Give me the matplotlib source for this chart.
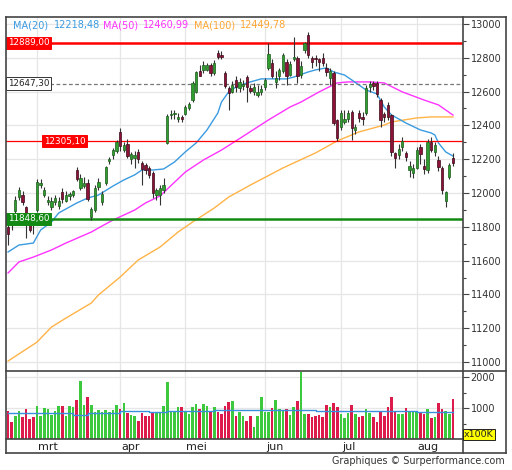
import matplotlib
matplotlib.use('Agg')
import matplotlib.pyplot as plt
import numpy as np
import pandas as pd
from matplotlib.lines import Line2D
from matplotlib.transforms import blended_transform_factory

# ---------------- data ----------------
holidays = ['2017-04-14', '2017-04-17', '2017-05-01', '2017-06-05']
dates = pd.bdate_range('2017-02-17', '2017-08-15')
dates = dates[~dates.isin(pd.to_datetime(holidays))]
month_names = ['mrt', 'apr', 'mei', 'jun', 'jul', 'aug']

opens = [11800, 11850, 11893, 11975, 11990, 11915, 11850, 11850, 11900, 12045,
         11990, 11945, 11915, 11945, 11925, 12005, 11955, 11985, 11990, 12136,
         12030, 12040, 12060, 11860, 11900, 12035, 11945, 12059, 12190, 12225,
         12250, 12360, 12255, 12290, 12200, 12205, 12240, 12180, 12165, 12150,
         12120, 11990, 11990, 12020, 12296, 12460, 12465, 12440, 12450, 12470,
         12505, 12550, 12600, 12720, 12728, 12730, 12760, 12710, 12830, 12815,
         12710, 12620, 12600, 12669, 12620, 12630, 12687, 12620, 12600, 12580,
         12600, 12627, 12740, 12770, 12655, 12690, 12720, 12775, 12700, 12795,
         12800, 12700, 12846, 12935, 12800, 12800, 12795, 12800, 12740, 12680,
         12710, 12430, 12390, 12420, 12440, 12480, 12375, 12473, 12450, 12473,
         12625, 12650, 12650, 12550, 12470, 12520, 12460, 12237, 12225, 12270,
         12237, 12136, 12118, 12148, 12272, 12160, 12136, 12302, 12240, 12195,
         12148, 11950, 12095, 12207]
highs = [11830, 11860, 11980, 12035, 12010, 11925, 11865, 11855, 12080, 12085,
         12035, 11985, 11975, 11990, 11975, 12030, 12010, 12005, 12020, 12156,
         12110, 12095, 12080, 11915, 12050, 12090, 12010, 12160, 12215, 12265,
         12315, 12385, 12300, 12320, 12245, 12250, 12260, 12190, 12180, 12160,
         12130, 12030, 12050, 12090, 12465, 12490, 12490, 12475, 12460, 12520,
         12540, 12660, 12720, 12760, 12780, 12770, 12770, 12785, 12845, 12841,
         12720, 12630, 12660, 12690, 12680, 12670, 12700, 12640, 12650, 12640,
         12640, 12680, 12890, 12790, 12720, 12740, 12830, 12790, 12780, 12920,
         12810, 12780, 12895, 12951, 12810, 12815, 12800, 12830, 12770, 12740,
         12720, 12440, 12490, 12490, 12490, 12490, 12410, 12490, 12480, 12640,
         12665, 12665, 12665, 12560, 12480, 12540, 12470, 12245, 12290, 12330,
         12250, 12190, 12170, 12270, 12290, 12200, 12320, 12330, 12300, 12220,
         12160, 12010, 12175, 12237]
lows = [11690, 11780, 11880, 11960, 11930, 11735, 11770, 11760, 11890, 12030,
        11975, 11930, 11900, 11930, 11905, 11940, 11945, 11960, 11975, 12070,
        12020, 12030, 11955, 11838, 11890, 12020, 11930, 12045, 12170, 12200,
        12235, 12250, 12240, 12205, 12170, 12150, 12180, 12050, 12110, 12090,
        11970, 11960, 11929, 12000, 12290, 12440, 12440, 12420, 12420, 12460,
        12490, 12540, 12590, 12690, 12710, 12720, 12690, 12700, 12790, 12790,
        12620, 12490, 12590, 12600, 12600, 12610, 12540, 12590, 12580, 12570,
        12580, 12610, 12730, 12680, 12620, 12670, 12710, 12640, 12690, 12780,
        12650, 12680, 12830, 12800, 12740, 12750, 12720, 12750, 12690, 12640,
        12400, 12305, 12370, 12410, 12420, 12314, 12350, 12420, 12400, 12460,
        12600, 12610, 12570, 12390, 12420, 12430, 12220, 12148, 12200, 12250,
        12190, 12095, 12090, 12140, 12170, 12110, 12120, 12240, 12220, 12130,
        11995, 11915, 12080, 12160]
closes = [11760, 11810, 11960, 12020, 11945, 11870, 11780, 11830, 12065, 12060,
          12020, 11960, 11955, 11970, 11955, 11963, 11990, 11995, 12010, 12080,
          12090, 12060, 11962, 11904, 12030, 12064, 11996, 12154, 12203, 12257,
          12300, 12280, 12282, 12218, 12231, 12225, 12200, 12139, 12135, 12109,
          12000, 12016, 12027, 12048, 12455, 12467, 12473, 12450, 12438, 12507,
          12528, 12648, 12717, 12694, 12757, 12757, 12711, 12770, 12807, 12804,
          12631, 12590, 12638, 12627, 12655, 12642, 12627, 12602, 12628, 12599,
          12615, 12669, 12822, 12690, 12680, 12725, 12815, 12690, 12765, 12806,
          12691, 12753, 12888, 12814, 12774, 12794, 12775, 12771, 12716, 12720,
          12416, 12325, 12475, 12440, 12475, 12385, 12392, 12444, 12437, 12621,
          12645, 12635, 12587, 12430, 12452, 12447, 12240, 12209, 12263, 12305,
          12212, 12162, 12150, 12254, 12228, 12140, 12302, 12257, 12285, 12154,
          12020, 12005, 12165, 12177]
volumes = [914, 559, 752, 903, 699, 967, 634, 699, 1064, 752,
           1000, 967, 774, 903, 1064, 1064, 752, 1064, 1043, 1247,
           1881, 1096, 1344, 1096, 881, 935, 881, 935, 881, 935,
           1096, 967, 1150, 849, 763, 742, 580, 827, 752, 752,
           860, 827, 827, 1064, 1849, 903, 903, 1021, 1021, 881,
           806, 1043, 1118, 967, 1129, 1064, 914, 1021, 860, 795,
           1064, 1183, 1226, 742, 881, 742, 580, 742, 398, 742,
           1365, 881, 881, 989, 1258, 967, 935, 967, 774, 1043,
           1226, 2170, 795, 795, 699, 742, 774, 699, 1100, 1021,
           1150, 1043, 795, 666, 827, 1096, 806, 720, 742, 967,
           827, 699, 559, 881, 752, 1043, 1344, 860, 795, 795,
           1010, 903, 881, 860, 860, 795, 967, 666, 720, 1172,
           967, 903, 795, 1279]

ma20_idx = [0, 3, 7, 9, 12, 14, 19, 22, 25, 29, 32, 35, 37, 40, 43, 46, 49, 52, 55, 58,
            59, 61, 63, 66, 70, 74, 77, 79, 83, 85, 88, 90, 93, 95, 97, 99, 102, 104,
            106, 110, 114, 117, 118, 119, 121, 123]
ma20_val = [11651, 11692, 11704, 11781, 11828, 11882, 11941, 11970, 11988, 12041,
            12077, 12107, 12136, 12136, 12142, 12183, 12243, 12296, 12373, 12473,
            12538, 12598, 12627, 12651, 12675, 12675, 12675, 12686, 12716, 12728,
            12740, 12716, 12698, 12669, 12639, 12609, 12586, 12509, 12462, 12414,
            12373, 12355, 12343, 12296, 12243, 12218.48]
ma50_idx = [0, 3, 7, 12, 16, 23, 25, 29, 35, 38, 42, 49, 54, 59, 63, 72, 78, 81, 86,
            91, 94, 100, 104, 109, 115, 119, 121, 123]
ma50_val = [11527, 11592, 11621, 11663, 11704, 11769, 11793, 11840, 11899, 11941,
            11982, 12124, 12195, 12254, 12308, 12432, 12509, 12538, 12598, 12651,
            12657, 12657, 12651, 12598, 12550, 12521, 12491, 12460.99]
ma100_idx = [0, 8, 12, 16, 23, 25, 31, 36, 42, 47, 51, 57, 61, 67, 76, 85, 91, 97,
             104, 106, 113, 117, 123]
ma100_val = [11006, 11118, 11207, 11260, 11349, 11397, 11503, 11604, 11680, 11769,
             11828, 11911, 11976, 12047, 12148, 12237, 12308, 12361, 12402, 12420,
             12444, 12450, 12449.78]
volma_idx = [0, 8, 18, 22, 31, 39, 44, 57, 85, 113, 123]
volma_val = [850, 830, 775, 850, 905, 860, 905, 935, 905, 860, 860]

levels = [12889.00, 12647.30, 12305.10, 11848.60]
level_labels = ['12889,00', '12647,30', '12305,10', '11848,60']
legend_names = ['MA(20)', 'MA(50)', 'MA(100)']
legend_values = ['12218,48', '12460,99', '12449,78']
price_ticks = list(range(11000, 13001, 200))
vol_ticks = [1000, 2000]

# ---------------- layout ----------------
W, H = 512, 470
fig = plt.figure(figsize=(W / 100, H / 100), dpi=100)
fig.patch.set_facecolor('white')

def fx(x):
    return x / W

def fy(y):
    return 1 - y / H

ax = fig.add_axes([fx(6), fy(370), 457 / W, 353 / H])
axv = fig.add_axes([fx(6), fy(439), 457 / W, 69 / H])

n = len(closes)
idx = np.arange(n)
month_start = [i for i in range(1, n) if dates[i].month != dates[i - 1].month]

XL = (-0.57, 125.78)
grid_c = '#e6e6e6'
for a in (ax, axv):
    a.set_xlim(*XL)
    for s in a.spines.values():
        s.set_visible(False)
    a.set_facecolor('white')
    a.set_xticks(month_start)
    a.tick_params(axis='x', length=0, labelbottom=False)
    a.grid(True, axis='both', color=grid_c, lw=0.9, zorder=0)
    a.set_axisbelow(True)
    a.yaxis.tick_right()

ax.set_ylim(10953, 13041)
ax.set_yticks(price_ticks)
ax.set_yticklabels([str(t) for t in price_ticks])
ax.set_yticks(list(range(11100, 13000, 200)), minor=True)
ax.tick_params(axis='y', which='major', length=4, width=0.8, color='#444',
               labelsize=7, labelcolor='#333', pad=1.5)
ax.tick_params(axis='y', which='minor', length=2.5, width=0.8, color='#444')
ax.grid(False, which='minor')

# moving averages
ax.plot(ma100_idx, ma100_val, color='#ffb347', lw=1.0, zorder=2)
ax.plot(ma50_idx, ma50_val, color='#ff33ff', lw=1.0, zorder=2)
ax.plot(ma20_idx, ma20_val, color='#3a9be0', lw=1.0, zorder=2)

# level lines
ax.axhline(levels[0], color='#ff0000', lw=1.8, zorder=3)
ax.axhline(levels[1], color='#777777', lw=0.9, ls=(0, (3, 2)), zorder=3)
ax.axhline(levels[2], color='#ff0000', lw=0.9, zorder=3)
ax.axhline(levels[3], color='#138a13', lw=1.8, zorder=3)

# candles
o = np.array(opens, float); c = np.array(closes, float)
h = np.array(highs, float); l = np.array(lows, float)
up = c >= o
ax.vlines(idx, l, h, color='#333333', lw=0.8, zorder=4)
body_h = np.maximum(np.abs(c - o), 4)
ax.bar(idx, body_h, bottom=np.minimum(o, c), width=0.64,
       color=np.where(up, '#2f9e2f', '#8e1238'),
       edgecolor=np.where(up, '#1d5a1d', '#3a0a18'), linewidth=0.5, zorder=5)

# level labels
tb = blended_transform_factory(ax.transAxes, ax.transData)
lab_x = [0.004, 0.004, 0.083, 0.004]
lab_fc = ['#ff0000', 'white', '#ff0000', '#138a13']
lab_ec = ['#ff0000', '#333333', '#ff0000', '#138a13']
lab_tc = ['white', '#222222', 'white', 'white']
for k in range(4):
    ax.text(lab_x[k], levels[k], level_labels[k], transform=tb, fontsize=6.3,
            color=lab_tc[k], ha='left', va='center', zorder=7,
            bbox=dict(boxstyle='square,pad=0.18', fc=lab_fc[k], ec=lab_ec[k], lw=0.7))

# volume panel
axv.set_ylim(0, 2226)
axv.set_yticks(vol_ticks)
axv.set_yticklabels([str(t) for t in vol_ticks])
axv.set_yticks([500, 1500], minor=True)
axv.tick_params(axis='y', which='major', length=4, width=0.8, color='#444',
                labelsize=7, labelcolor='#333', pad=1.5)
axv.tick_params(axis='y', which='minor', length=2.5, width=0.8, color='#444')
axv.grid(False, which='minor')
axv.bar(idx, volumes, width=0.72, color=np.where(up, '#3dc93d', '#dc1a4c'),
        linewidth=0, zorder=2)
axv.plot(volma_idx, volma_val, color='#3a8fdc', lw=1.0, drawstyle='steps-post', zorder=3)

# month labels
tm = blended_transform_factory(axv.transData, fig.transFigure)
for k, m in enumerate(month_start):
    axv.text(m + 0.3, fy(446.5), month_names[k], transform=tm, fontsize=8,
             color='#222222', ha='left', va='center', clip_on=False)

# legend
leg_x = [13, 54, 103, 143, 194, 240]
leg_t = [legend_names[0], legend_values[0], legend_names[1], legend_values[1],
         legend_names[2], legend_values[2]]
leg_c = ['#3a9be0', '#3a9be0', '#ff33ff', '#ff33ff', '#ffa733', '#ffa733']
for xx, t, cc in zip(leg_x, leg_t, leg_c):
    fig.text(fx(xx), fy(25), t, fontsize=7, color=cc, ha='left', va='center')

# x100K box
fig.text(fx(479), fy(434.5), 'x100K', fontsize=6.8, color='#222222', ha='center', va='center',
         bbox=dict(boxstyle='square,pad=0.15', fc='#ffff00', ec='#222222', lw=0.7))

# footer
fig.text(fx(505), fy(461), 'Graphiques \u00a9 Surperformance.com', fontsize=6.9,
         color='#333333', ha='right', va='center')

# frame lines
fc_ = '#444444'
def fline(x0, y0, x1, y1, lw=1.2):
    fig.add_artist(Line2D([fx(x0), fx(x1)], [fy(y0), fy(y1)], color=fc_, lw=lw,
                          transform=fig.transFigure))

fline(6, 17, 506, 17)
fline(6, 17, 6, 453)
fline(506, 17, 506, 453)
fline(6, 453, 506, 453)
fline(463, 17, 463, 453)
fline(6, 370.5, 506, 370.5)
fline(6, 439, 463, 439)

fig.savefig('out.png', dpi=100, facecolor='white')
